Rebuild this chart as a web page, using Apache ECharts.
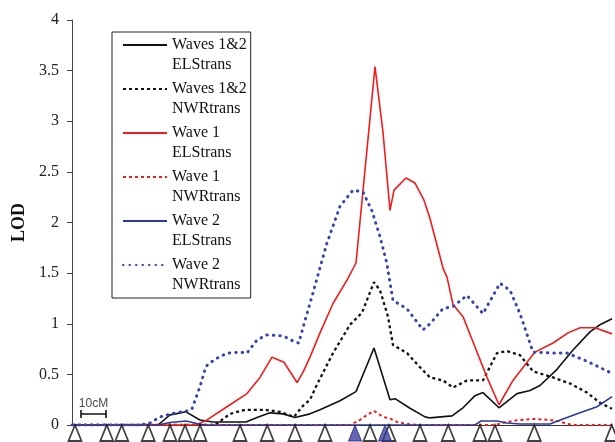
<!DOCTYPE html>
<html>
<head>
<meta charset="utf-8">
<script src="https://cdn.jsdelivr.net/npm/echarts@6/dist/echarts.min.js"></script>
<style>html,body{margin:0;padding:0;background:#fff}#c{width:615px;height:442px}</style>
</head>
<body>
<div id="c"></div>
<script>
// ---- data (x in cM, y in LOD) ----
const yTicks = [0, 0.5, 1, 1.5, 2, 2.5, 3, 3.5, 4];
const seriesNames = [
  'Waves 1&2\nELStrans', 'Waves 1&2\nNWRtrans',
  'Wave 1\nELStrans', 'Wave 1\nNWRtrans',
  'Wave 2\nELStrans', 'Wave 2\nNWRtrans'
];
const waves12EL = [[0,0],[34.4,0],[39.2,0.10],[45.6,0.13],[51.2,0.05],[56.4,0.03],[69.6,0.03],[74,0.075],[79.2,0.12],[84.4,0.11],[89.2,0.075],[95.2,0.11],[99.2,0.15],[107.2,0.24],[113.6,0.33],[120.8,0.76],[127.2,0.25],[129.2,0.26],[135.2,0.165],[141.2,0.08],[143.2,0.07],[152,0.09],[156.4,0.17],[161.2,0.29],[164.4,0.32],[170.8,0.17],[178,0.31],[183.2,0.34],[187.2,0.39],[194,0.55],[200.4,0.74],[207.2,0.92],[211.2,0.99],[216,1.05]];
const waves12NWR = [[0,0],[57.2,0],[63.2,0.11],[69.2,0.15],[77.2,0.15],[83.2,0.13],[88.8,0.08],[92.4,0.19],[95.2,0.25],[98,0.40],[104.4,0.71],[111.2,0.99],[116,1.11],[120.8,1.41],[123.2,1.33],[126.4,1.07],[128.4,0.79],[134,0.71],[139.2,0.57],[143.2,0.47],[148.4,0.44],[152.4,0.37],[158,0.44],[164.4,0.44],[170,0.71],[174,0.73],[179.2,0.69],[184.4,0.53],[192.4,0.47],[199.2,0.41],[206,0.32],[211.2,0.22],[216,0.16]];
const wave1EL = [[0,0],[49.6,0],[54,0.05],[62,0.18],[70,0.31],[75.2,0.47],[80,0.67],[84.8,0.62],[90,0.42],[92.4,0.52],[95.2,0.67],[99.2,0.91],[104.4,1.2],[110,1.43],[113.6,1.6],[121.2,3.54],[124.4,2.89],[127.2,2.12],[128.8,2.32],[133.6,2.44],[137.2,2.39],[140.8,2.22],[143.2,2.04],[148.4,1.55],[150,1.46],[152.4,1.19],[156.4,1.07],[161.2,0.77],[166,0.47],[170.8,0.2],[176.4,0.44],[182,0.62],[185.2,0.72],[192.4,0.81],[198.4,0.91],[203.2,0.96],[209.2,0.96],[216,0.9]];
const wave1NWR = [[0,0],[111.2,0],[115.2,0.05],[118,0.1],[120.8,0.14],[124.4,0.08],[127.2,0.065],[130,0.03],[134,0.01],[139.2,0],[169.2,0],[174,0.03],[179.2,0.05],[184.4,0.06],[191.2,0.05],[195.2,0.035],[198,0.01],[201.2,0],[216,0]];
const wave2EL = [[0,0],[34.4,0],[39.2,0.025],[45.6,0.04],[50.8,0.01],[53.2,0],[161.2,0],[163.6,0.04],[170,0.04],[174,0.02],[179.2,0.01],[191.2,0.01],[196.4,0.06],[203.2,0.12],[210,0.18],[216,0.28]];
const wave2NWR = [[0,0],[27.2,0],[31.2,0.02],[35.2,0.08],[40.4,0.115],[46.4,0.14],[48,0.16],[51.2,0.38],[53.6,0.58],[57.2,0.65],[62,0.71],[67.2,0.72],[70,0.71],[74,0.84],[78,0.89],[84.4,0.88],[89.2,0.82],[90.7,0.81],[93.3,1.04],[96,1.27],[101.9,1.79],[107.2,2.16],[112.4,2.32],[116.4,2.30],[119.9,2.12],[123.2,1.86],[125.9,1.6],[128.4,1.23],[133.9,1.15],[140.4,0.94],[143.2,1.0],[148.4,1.15],[152.4,1.17],[158,1.28],[164.4,1.10],[171.2,1.40],[175.2,1.33],[179.2,1.1],[184.4,0.72],[192.4,0.71],[198,0.71],[206,0.63],[216,0.51]];
const markerOpen = [1.2, 13.9, 19.9, 30.5, 39.2, 45.2, 51.2, 67.2, 78.1, 89.2, 101.2, 119.2, 126.8, 139.2, 150.5, 163.2, 169.2, 184.9, 215.9];
const markerFilled = [113.2, 125.2];
const scaleBarStart = 3.6;
const scaleBarLength = 10;
const scaleBarLOD = 0.109;
const scaleBarText = '10cM';

// ---- chart ----
const serif = 'Liberation Serif';
const chart = echarts.init(document.getElementById('c'), null, {renderer: 'canvas'});
function lineSeries(name, data, color, type, width, cap, z) {
  return {
    name: name, type: 'line', data: data, symbol: 'none', smooth: false,
    z: z, animation: false, silent: true,
    itemStyle: {color: color},
    lineStyle: {color: color, width: width, type: type, cap: cap}
  };
}
const option = {
  animation: false,
  backgroundColor: '#fff',
  grid: {left: 72, right: 3, top: 20, bottom: 17, containLabel: false},
  xAxis: {
    type: 'value', min: 0, max: 216,
    axisLine: {show: true, lineStyle: {color: '#333', width: 1}},
    axisTick: {show: false}, axisLabel: {show: false}, splitLine: {show: false}
  },
  yAxis: {
    type: 'value', min: yTicks[0], max: yTicks[yTicks.length - 1], interval: yTicks[1] - yTicks[0],
    name: 'LOD', nameLocation: 'middle', nameGap: 41, nameRotate: 90,
    nameTextStyle: {fontFamily: serif, fontSize: 18, fontWeight: 'bold', color: '#111'},
    axisLine: {show: true, lineStyle: {color: '#444', width: 1}},
    axisTick: {show: true, length: 5, lineStyle: {color: '#444'}},
    axisLabel: {fontFamily: serif, fontSize: 16, color: '#222', margin: 13},
    splitLine: {show: false}
  },
  legend: {
    orient: 'vertical', left: 112, top: 32,
    padding: [-17, 4, 3, 10], itemGap: -16, itemWidth: 44, itemHeight: 14,
    borderColor: '#222', borderWidth: 1, backgroundColor: '#fff',
    selectedMode: false,
    itemStyle: {color: 'transparent', borderColor: 'transparent', borderWidth: 0, opacity: 0},
    formatter: function (name) { return '\n' + name; },
    textStyle: {fontFamily: serif, fontSize: 16, color: '#111', lineHeight: 20},
    data: seriesNames
  },
  series: [
    lineSeries(seriesNames[0], waves12EL, '#111', 'solid', 1.6, 'butt', 2),
    lineSeries(seriesNames[1], waves12NWR, '#111', [3, 3], 2.3, 'butt', 2),
    lineSeries(seriesNames[2], wave1EL, '#f21c1c', 'solid', 1.6, 'butt', 2),
    lineSeries(seriesNames[3], wave1NWR, '#f21c1c', [3, 3], 2, 'butt', 2),
    lineSeries(seriesNames[4], wave2EL, '#2a3a9c', 'solid', 1.6, 'butt', 3),
    lineSeries(seriesNames[5], wave2NWR, '#3444b0', [0.5, 6], 3, 'round', 3),
    {
      name: 'markersOpen', type: 'scatter', silent: true, clip: false, z: 5,
      data: markerOpen.map(x => [x, 0]),
      symbol: 'triangle', symbolSize: [13, 16], symbolOffset: [0, 8],
      itemStyle: {color: '#fff', borderColor: '#111', borderWidth: 1.8}
    },
    {
      name: 'markersFilled', type: 'scatter', silent: true, clip: false, z: 6,
      data: markerFilled.map(x => [x, 0]),
      symbol: 'triangle', symbolSize: [13, 16], symbolOffset: [0, 8],
      itemStyle: {color: '#3b3f9e', borderColor: '#2a2e80', borderWidth: 1}
    },
    {
      name: 'scaleBar', type: 'line', silent: true, z: 4,
      data: [[scaleBarStart, scaleBarLOD], [scaleBarStart + scaleBarLength, scaleBarLOD]],
      symbol: 'rect', symbolSize: [1.6, 8], showSymbol: true,
      itemStyle: {color: '#111'}, lineStyle: {color: '#111', width: 1.6}
    },
    {
      name: 'scaleBarLabel', type: 'scatter', silent: true, z: 4,
      data: [[scaleBarStart + scaleBarLength / 2, scaleBarLOD]],
      symbolSize: 0,
      label: {show: true, position: 'top', distance: 4, formatter: scaleBarText,
              fontFamily: 'Liberation Sans', fontSize: 12, color: '#111'}
    }
  ]
};
chart.setOption(option);
</script>
</body>
</html>
